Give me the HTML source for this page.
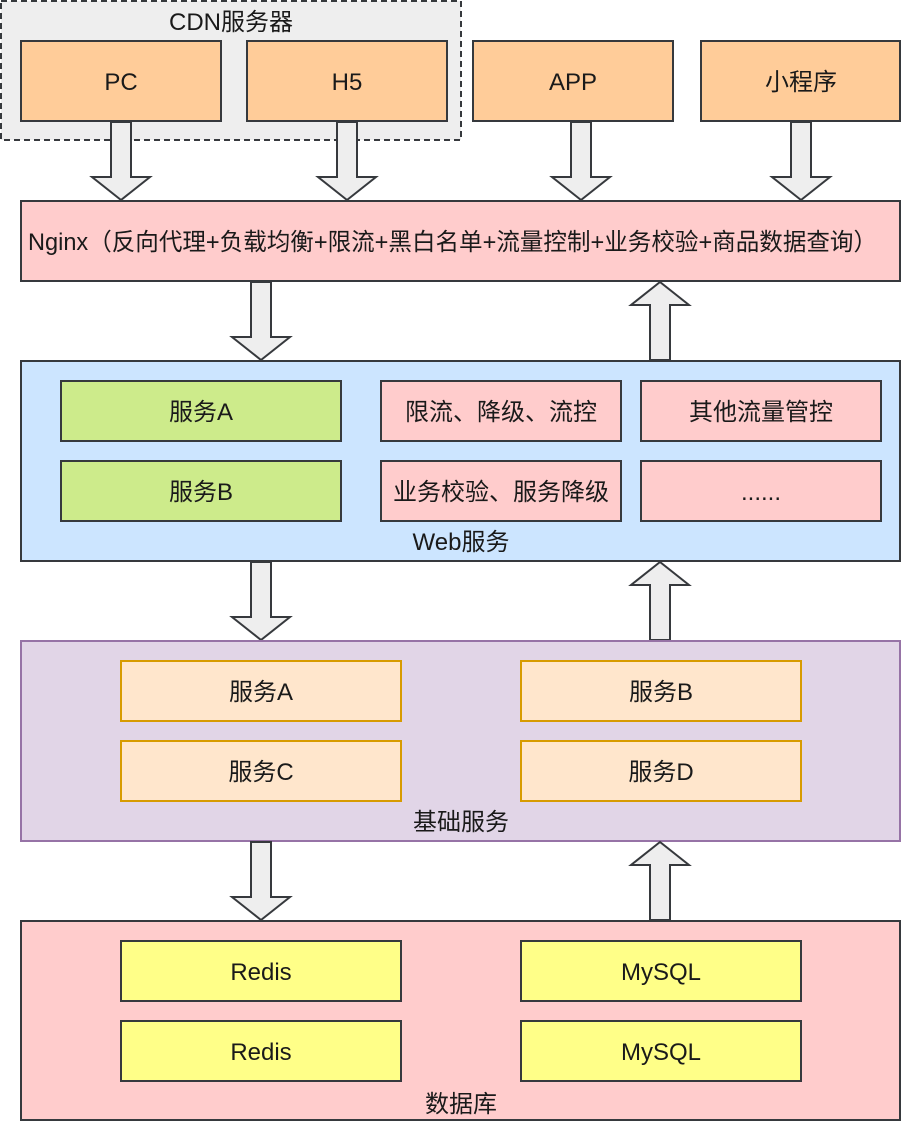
<!DOCTYPE html>
<html><head><meta charset="utf-8"><style>
html,body{margin:0;padding:0;background:#fff}
svg text{font-family:"Liberation Sans","Noto Sans CJK SC",sans-serif;font-size:24px;fill:#1a1a1a}
</style></head><body>
<svg width="902" height="1122" viewBox="0 0 902 1122" xmlns="http://www.w3.org/2000/svg" font-size="24">
<defs>
<g id="dn"><path d="M-10,0 L10,0 L10,55 L29,55 L0,78 L-29,55 L-10,55 Z" fill="#eeeeee" stroke="#36393d" stroke-width="2"/></g>
<g id="up"><path d="M-10,78 L10,78 L10,23 L29,23 L0,0 L-29,23 L-10,23 Z" fill="#eeeeee" stroke="#36393d" stroke-width="2"/></g>
</defs>
<rect x="1" y="1" width="460" height="139" fill="#eeeeee" stroke="#36393d" stroke-width="2" stroke-dasharray="6,4"/>
<text x="231" y="30" text-anchor="middle">CDN服务器</text>
<g stroke="#36393d" stroke-width="2" fill="#ffcc99">
<rect x="21" y="41" width="200" height="80"/>
<rect x="247" y="41" width="200" height="80"/>
<rect x="473" y="41" width="200" height="80"/>
<rect x="701" y="41" width="199" height="80"/>
</g>
<text x="121" y="90" text-anchor="middle">PC</text>
<text x="347" y="90" text-anchor="middle">H5</text>
<text x="573" y="90" text-anchor="middle">APP</text>
<text x="801" y="90" text-anchor="middle">小程序</text>
<use href="#dn" x="121" y="122"/><use href="#dn" x="347" y="122"/>
<use href="#dn" x="581" y="122"/><use href="#dn" x="801" y="122"/>
<rect x="21" y="201" width="879" height="80" fill="#ffcccc" stroke="#36393d" stroke-width="2"/>
<text x="28" y="250" textLength="849" lengthAdjust="spacingAndGlyphs">Nginx（反向代理+负载均衡+限流+黑白名单+流量控制+业务校验+商品数据查询）</text>
<use href="#dn" x="261" y="282"/><use href="#up" x="660" y="282"/>
<rect x="21" y="361" width="879" height="200" fill="#cce5ff" stroke="#36393d" stroke-width="2"/>
<g stroke="#36393d" stroke-width="2">
<rect x="61" y="381" width="280" height="60" fill="#cdeb8b"/>
<rect x="61" y="461" width="280" height="60" fill="#cdeb8b"/>
<rect x="381" y="381" width="240" height="60" fill="#ffcccc"/>
<rect x="381" y="461" width="240" height="60" fill="#ffcccc"/>
<rect x="641" y="381" width="240" height="60" fill="#ffcccc"/>
<rect x="641" y="461" width="240" height="60" fill="#ffcccc"/>
</g>
<text x="201" y="420" text-anchor="middle">服务A</text>
<text x="201" y="500" text-anchor="middle">服务B</text>
<text x="501" y="420" text-anchor="middle">限流、降级、流控</text>
<text x="501" y="500" text-anchor="middle">业务校验、服务降级</text>
<text x="761" y="420" text-anchor="middle">其他流量管控</text>
<text x="761" y="500" text-anchor="middle">......</text>
<text x="461" y="550" text-anchor="middle">Web服务</text>
<use href="#dn" x="261" y="562"/><use href="#up" x="660" y="562"/>
<rect x="21" y="641" width="879" height="200" fill="#e1d5e7" stroke="#9673a6" stroke-width="2"/>
<g stroke="#d79b00" stroke-width="2" fill="#ffe6cc">
<rect x="121" y="661" width="280" height="60"/>
<rect x="521" y="661" width="280" height="60"/>
<rect x="121" y="741" width="280" height="60"/>
<rect x="521" y="741" width="280" height="60"/>
</g>
<text x="261" y="700" text-anchor="middle">服务A</text>
<text x="661" y="700" text-anchor="middle">服务B</text>
<text x="261" y="780" text-anchor="middle">服务C</text>
<text x="661" y="780" text-anchor="middle">服务D</text>
<text x="461" y="830" text-anchor="middle">基础服务</text>
<use href="#dn" x="261" y="842"/><use href="#up" x="660" y="842"/>
<rect x="21" y="921" width="879" height="199" fill="#ffcccc" stroke="#36393d" stroke-width="2"/>
<g stroke="#36393d" stroke-width="2" fill="#ffff88">
<rect x="121" y="941" width="280" height="60"/>
<rect x="521" y="941" width="280" height="60"/>
<rect x="121" y="1021" width="280" height="60"/>
<rect x="521" y="1021" width="280" height="60"/>
</g>
<text x="261" y="980" text-anchor="middle">Redis</text>
<text x="661" y="980" text-anchor="middle">MySQL</text>
<text x="261" y="1060" text-anchor="middle">Redis</text>
<text x="661" y="1060" text-anchor="middle">MySQL</text>
<text x="461" y="1112" text-anchor="middle">数据库</text>
</svg>
</body></html>
